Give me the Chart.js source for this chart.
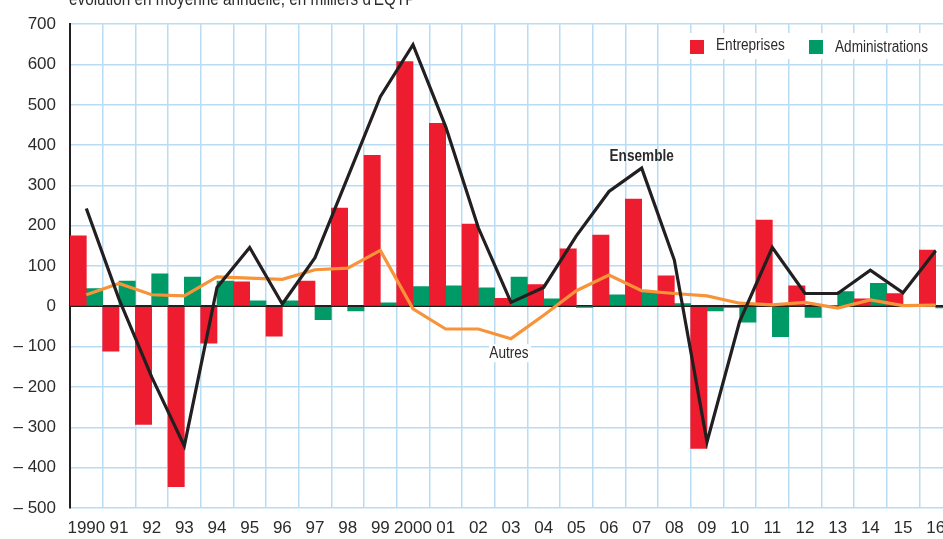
<!DOCTYPE html>
<html lang="fr">
<head>
<meta charset="UTF-8">
<script src="https://cdn.jsdelivr.net/npm/chart.js"></script>
<style>
  body { margin: 0; overflow: hidden; background: #fff; }
</style>
</head>
<body>
<canvas id="myChart" width="960" height="539"></canvas>
<script>
  // data (milliers d'EQTP)
  const categories = ['1990','91','92','93','94','95','96','97','98','99','2000','01','02','03','04','05','06','07','08','09','10','11','12','13','14','15','16']
  const entreprises = [175,-111,-293,-447,-91,61,-74,63,244,375,607,454,204,20,54,143,177,266,76,-352,-2,214,51,1,19,32,140]
  const administrations = [44,63,81,73,63,14,14,-33,-11,9,49,51,46,73,19,-1,29,36,7,-11,-39,-75,-27,37,57,0,-4]
  const ensemble = [243,18,-175,-346,47,146,6,121,320,520,649,446,195,10,47,175,285,343,115,-336,-37,146,32,32,90,34,138]
  const autres = [29,57,29,26,73,70,67,91,95,139,-6,-56,-56,-80,-22,39,78,39,32,26,8,4,10,-4,16,2,3]
  const yMin = -500, yMax = 700, yStep = 100

  const font = '"Liberation Sans", Arial, sans-serif'
  const textColor = '#2b2b2b'

  // narrow text, to get close to the condensed face of the original
  function narrowText(ctx, txt, x, y, size, bold, align) {
    ctx.save()
    ctx.translate(x, y)
    ctx.scale(0.85, 1)
    ctx.font = (bold ? 'bold ' : '') + size + 'px ' + font
    ctx.textAlign = align
    ctx.fillText(txt, 0, 0)
    ctx.restore()
  }

  const extras = {
    id: 'extras',
    afterDraw(chart) {
      const ctx = chart.ctx
      const x = chart.scales.x, y = chart.scales.y
      ctx.save()
      ctx.fillStyle = textColor
      ctx.textBaseline = 'alphabetic'
      // title (cut at top, as in the original)
      narrowText(ctx, "évolution en moyenne annuelle, en milliers d'EQTP", 69, 5, 18, false, 'left')

      // legend
      ctx.fillStyle = '#fff'
      ctx.fillRect(683, 33, 254, 26)
      ctx.fillStyle = '#ed1c2e'
      ctx.fillRect(690, 40, 14, 14)
      ctx.fillStyle = '#009a66'
      ctx.fillRect(809, 40, 14, 14)
      ctx.fillStyle = textColor
      ctx.textBaseline = 'middle'
      narrowText(ctx, 'Entreprises', 716, 46, 16, false, 'left')
      narrowText(ctx, 'Administrations', 835, 48, 16, false, 'left')

      // series labels
      narrowText(ctx, 'Ensemble', x.getPixelForValue(17), y.getPixelForValue(372), 16, true, 'center')
      const ax = x.getPixelForValue(13), ay = y.getPixelForValue(-116)
      ctx.fillStyle = '#fff'
      ctx.fillRect(ax - 22, ay - 9, 42, 18)
      ctx.fillStyle = textColor
      narrowText(ctx, 'Autres', ax - 2, ay, 16, false, 'center')
      ctx.restore()
    }
  }

  new Chart(document.getElementById('myChart'), {
    type: 'bar',
    data: {
      labels: categories,
      datasets: [
        { type: 'line', label: 'Ensemble', data: ensemble, borderColor: '#231f20', borderWidth: 3.2,
          pointRadius: 0, tension: 0, order: 1 },
        { type: 'line', label: 'Autres', data: autres, borderColor: '#f7943a', borderWidth: 3.2,
          pointRadius: 0, tension: 0, order: 2 },
        { label: 'Entreprises', data: entreprises, backgroundColor: '#ed1c2e',
          barPercentage: 1, categoryPercentage: 1, order: 3 },
        { label: 'Administrations', data: administrations, backgroundColor: '#009a66',
          barPercentage: 1, categoryPercentage: 1, order: 3 }
      ]
    },
    options: {
      responsive: false,
      animation: false,
      layout: { padding: { top: 22, right: 8, left: 0, bottom: 0 } },
      plugins: { legend: { display: false }, tooltip: { enabled: false } },
      scales: {
        x: {
          offset: true,
          grid: { color: '#b8dcf3', lineWidth: 1.5, drawTicks: false, offset: true },
          border: { display: false },
          ticks: { color: textColor, font: { family: font, size: 17 }, padding: 10,
                   autoSkip: false, maxRotation: 0 },
          afterFit(s) { s.height = 31; s.paddingLeft = 0; s.paddingRight = 0 }
        },
        y: {
          min: yMin, max: yMax,
          ticks: { stepSize: yStep, color: textColor, font: { family: font, size: 17 }, padding: 14,
                   callback: v => v < 0 ? '\u2013 ' + Math.abs(v) : String(v) },
          grid: {
            drawTicks: false,
            color: c => c.tick && c.tick.value === 0 ? '#231f20' : '#b8dcf3',
            lineWidth: c => c.tick && c.tick.value === 0 ? 2 : 1.5
          },
          border: { display: true, color: '#231f20', width: 2 },
          afterFit(s) { s.width = 70 }
        }
      }
    },
    plugins: [extras]
  })
</script>
</body>
</html>
